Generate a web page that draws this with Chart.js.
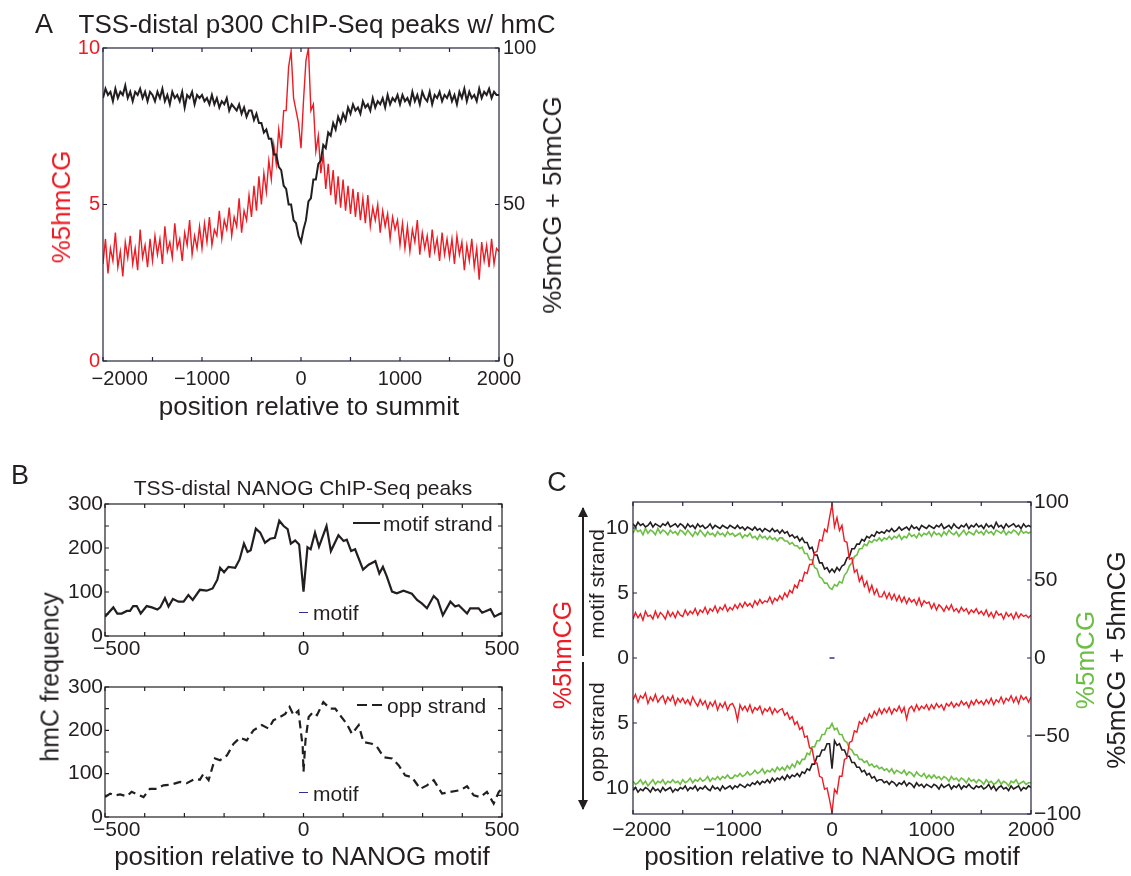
<!DOCTYPE html>
<html lang="en">
<head>
<meta charset="UTF-8">
<title>hmC profiles around p300 and NANOG sites</title>
<script src="https://cdn.jsdelivr.net/npm/chart.js"></script>
<style>
  body { margin: 0; background: #fff; }
  #page { position: relative; width: 1131px; height: 876px; overflow: hidden;
          font-family: 'Liberation Sans', Arial, sans-serif; color: #231f20; }
  canvas { position: absolute; }
  .t { position: absolute; white-space: nowrap; line-height: 1; transform: translate(-50%, -50%); }
  .v { transform: translate(-50%, -50%) rotate(-90deg); }
  .l { position: absolute; white-space: nowrap; line-height: 1; transform: translateY(-50%); font-size: 21px; }
  .seg { position: absolute; height: 0; }
</style>
</head>
<body>
<div id="page">
  <svg width="1131" height="876" style="position:absolute;left:0;top:0">
    <defs>
      <marker id="ah" viewBox="0 0 10 10" refX="9" refY="5" markerWidth="5" markerHeight="5" orient="auto">
        <path d="M0,0 L10,5 L0,10 z" fill="#231f20"/>
      </marker>
    </defs>
    <line x1="583" y1="656" x2="583" y2="508" stroke="#231f20" stroke-width="2" marker-end="url(#ah)"/>
    <line x1="583" y1="662" x2="583" y2="809" stroke="#231f20" stroke-width="2" marker-end="url(#ah)"/>
  </svg>

  <canvas id="cA" width="580" height="420" style="left:0px;top:0px"></canvas>
  <canvas id="cB1" width="540" height="230" style="left:0px;top:440px"></canvas>
  <canvas id="cB2" width="540" height="200" style="left:0px;top:660px"></canvas>
  <canvas id="cC" width="591" height="436" style="left:540px;top:440px"></canvas>

  <!-- panel A text -->
  <div class="t" style="left:44px;top:24px;font-size:27px">A</div>
  <div class="t" style="left:317px;top:24px;font-size:26px">TSS-distal p300 ChIP-Seq peaks w/ hmC</div>
  <div class="t v" style="left:61px;top:207px;font-size:26px;color:#ed1c24">%5hmCG</div>
  <div class="t v" style="left:552px;top:205px;font-size:26px">%5mCG + 5hmCG</div>
  <div class="t" style="left:309px;top:406px;font-size:26px">position relative to summit</div>

  <!-- panel B text -->
  <div class="t" style="left:20px;top:475px;font-size:27px">B</div>
  <div class="t" style="left:303px;top:487px;font-size:21px">TSS-distal NANOG ChIP-Seq peaks</div>
  <div class="t v" style="left:50px;top:677px;font-size:25px">hmC frequency</div>
  <div class="t" style="left:302px;top:856px;font-size:26px">position relative to NANOG motif</div>
  <div class="seg" style="left:353px;top:522px;width:27px;border-top:2.5px solid #231f20"></div>
  <div class="l" style="left:383px;top:523px">motif strand</div>
  <div class="seg" style="left:299px;top:612px;width:9px;border-top:1.5px solid #2e3192"></div>
  <div class="l" style="left:313px;top:612px">motif</div>
  <div class="seg" style="left:357px;top:704px;width:10px;border-top:2.5px solid #231f20"></div>
  <div class="seg" style="left:372px;top:704px;width:10px;border-top:2.5px solid #231f20"></div>
  <div class="l" style="left:387px;top:705px">opp strand</div>
  <div class="seg" style="left:299px;top:792px;width:9px;border-top:1.5px solid #2e3192"></div>
  <div class="l" style="left:313px;top:793px">motif</div>

  <!-- panel C text -->
  <div class="t" style="left:557px;top:482px;font-size:27px">C</div>
  <div class="t v" style="left:562px;top:655px;font-size:25px;color:#ed1c24">%5hmCG</div>
  <div class="t v" style="left:596px;top:584px;font-size:21px">motif strand</div>
  <div class="t v" style="left:596px;top:732px;font-size:21px">opp strand</div>
  <div class="t v" style="left:1085px;top:660px;font-size:26px;color:#6cbe45">%5mCG</div>
  <div class="t v" style="left:1116px;top:660px;font-size:26px">%5mCG + 5hmCG</div>
  <div class="t" style="left:832px;top:856px;font-size:26px">position relative to NANOG motif</div>
</div>

<script>
// ---------- data ----------
// bins of 25 bp from -2000 to 2000 (panels A and C)
const binPos = [];
for (let p = -2000; p <= 2000; p += 25) binPos.push(p);

// panel A: %5hmCG (left axis) and %5mCG + 5hmCG (right axis)
const aHmc = [
  3.1, 3.9, 2.8, 3.6, 3.2, 4.1, 3.0, 3.5, 2.7, 3.8, 3.3, 4.0, 3.1, 3.6, 2.9, 4.2, 3.3, 3.7, 3.0, 3.9,
  3.2, 4.0, 3.4, 3.9, 3.1, 4.3, 3.5, 3.8, 3.3, 4.4, 3.6, 3.9, 3.2, 4.1, 3.7, 4.5, 3.4, 4.0, 3.6, 4.3,
  3.6, 4.4, 3.8, 4.6, 3.7, 4.2, 4.0, 4.8, 3.9, 4.5, 4.2, 4.9, 4.0, 4.6, 4.3, 5.2, 4.1, 4.8, 4.5, 5.3,
  4.6, 5.6, 4.8, 5.9, 5.0, 6.0, 5.4, 6.4, 5.8, 6.9, 6.3, 7.4, 6.8, 8.0, 8.0, 9.4, 9.9, 8.4, 8.0, 7.6,
  6.8, 8.3, 9.6, 10.0, 8.0, 8.2, 6.7, 7.2, 6.0, 6.6, 5.5, 6.3, 5.3, 6.1, 5.0, 5.9, 4.9, 5.8, 4.8, 5.6,
  4.7, 5.5, 4.6, 5.4, 4.5, 5.2, 4.4, 5.3, 4.3, 4.9, 4.5, 5.0, 4.1, 4.8, 4.3, 4.7, 3.9, 4.6, 4.2, 4.5,
  3.7, 4.4, 3.6, 4.3, 3.5, 4.2, 3.8, 4.5, 3.4, 4.1, 3.6, 4.0, 3.3, 4.2, 3.5, 3.9, 3.2, 4.1, 3.4, 3.9,
  3.3, 3.9, 3.1, 4.0, 3.4, 3.8, 2.9, 3.7, 3.2, 3.9, 3.0, 3.6, 2.6, 3.8, 3.2, 3.7, 3.0, 3.9, 3.1, 3.6,
  3.5
];
const aTotal = [
  84, 87, 85, 86, 83, 87, 84, 86, 85, 88, 84, 86, 83, 86, 85, 87, 84, 86, 83, 86,
  85, 83, 86, 84, 87, 83, 85, 82, 86, 84, 85, 83, 86, 81, 85, 84, 86, 82, 85, 84,
  85, 83, 84, 82, 85, 82, 84, 81, 83, 82, 84, 80, 82, 81, 80, 82, 79, 81, 78, 80,
  80, 77, 79, 76, 76, 73, 74, 71, 71, 66, 66, 62, 61, 56, 55, 50, 50, 45, 44, 40,
  38, 42, 45, 51, 52, 58, 58, 63, 64, 69, 68, 73, 72, 76, 74, 78, 76, 79, 77, 81,
  79, 82, 80, 81, 79, 83, 81, 82, 80, 84, 81, 83, 82, 84, 81, 85, 82, 84, 83, 85,
  82, 85, 83, 84, 82, 86, 83, 85, 82, 86, 84, 83, 86, 82, 85, 84, 86, 83, 85, 84,
  86, 83, 85, 82, 86, 84, 87, 83, 86, 84, 85, 83, 87, 84, 86, 85, 87, 84, 86, 85,
  85
];

// panel B: hmC frequency around NANOG motif
const motifPos = [-500, -479, -469, -458, -445, -437, -429, -420, -410, -395, -382, -368, -361, -349, -340, -329,
  -315, -302, -290, -279, -261, -244, -229, -217, -210, -200, -189, -172, -161, -150, -141, -133, -120, -109,
  -97, -84, -72, -61, -50, -40, -32, -21, -11, 0, 10, 18, 29, 39, 58, 69, 88, 101, 109, 120, 130, 150, 164,
  181, 191, 200, 210, 223, 235, 252, 273, 286, 298, 311, 328, 338, 351, 370, 382, 391, 412, 420, 433, 441,
  450, 471, 481, 500];
const motifHmc = [44, 65, 51, 51, 57, 57, 68, 68, 51, 68, 65, 60, 65, 86, 67, 84,
  78, 78, 93, 82, 105, 103, 108, 128, 155, 145, 157, 155, 174, 210, 191, 195, 244, 235,
  212, 221, 223, 262, 250, 243, 210, 217, 208, 101, 202, 197, 235, 203, 250, 193, 229, 216, 219, 193, 197, 151, 162,
  170, 142, 157, 135, 101, 97, 103, 96, 82, 74, 63, 91, 82, 47, 78, 67, 70, 51, 63, 63, 63,
  53, 61, 44, 53];
const oppPos = [-500, -487, -475, -462, -445, -433, -403, -387, -370, -353, -332, -311, -294, -273, -261, -252,
  -239, -223, -210, -193, -176, -160, -143, -126, -105, -88, -76, -59, -46, -35, -25, -13, -8, -2, 0, 5, 13,
  24, 34, 50, 67, 80, 92, 109, 122, 139, 151, 172, 185, 202, 223, 240, 256, 273, 294, 311, 328, 349, 370,
  395, 412, 429, 445, 462, 479, 492, 500];
const oppHmc = [46, 54, 50, 52, 48, 58, 46, 65, 65, 73, 75, 81, 78, 88, 86, 100,
  85, 135, 131, 142, 169, 183, 177, 200, 212, 204, 223, 231, 238, 254, 235, 245, 208, 162, 104, 177, 231,
  242, 235, 265, 250, 250, 235, 215, 192, 212, 173, 169, 162, 138, 135, 119, 96, 92, 65, 73, 85, 54, 58,
  62, 71, 50, 46, 58, 31, 58, 65];

// panel C: motif strand (positive) and opposite strand (negative, mirrored)
const cHmcMotif = [
  3.0, 3.5, 3.1, 3.4, 2.9, 3.6, 3.2, 3.3, 3.0, 3.6, 3.1, 3.5, 3.3, 3.0, 3.6, 3.2, 3.5, 3.1, 3.6, 3.3,
  3.2, 3.7, 3.3, 3.6, 3.4, 3.8, 3.3, 3.7, 3.5, 3.9, 3.4, 3.8, 3.6, 4.0, 3.5, 3.9, 3.7, 4.1, 3.6, 3.9,
  3.7, 4.1, 3.8, 4.2, 3.9, 4.3, 4.0, 4.2, 3.9, 4.4, 4.1, 4.5, 4.2, 4.4, 4.3, 4.7, 4.2, 4.6, 4.4, 4.8,
  4.5, 5.0, 4.7, 5.2, 5.0, 5.6, 5.4, 6.0, 5.9, 6.6, 6.5, 7.2, 7.2, 8.1, 8.2, 9.1, 9.0, 9.9, 9.7, 10.8,
  11.8, 10.1, 10.8, 9.8, 10.2, 9.0, 8.9, 7.6, 7.7, 6.6, 6.8, 5.9, 6.3, 5.5, 5.9, 5.1, 5.6, 4.9, 5.3, 4.7,
  4.7, 5.1, 4.6, 5.0, 4.5, 4.9, 4.4, 4.8, 4.3, 4.7, 4.2, 4.6, 4.3, 4.5, 4.1, 4.6, 4.0, 4.4, 4.2, 4.3,
  3.8, 4.2, 3.7, 4.1, 3.9, 3.6, 4.0, 3.7, 4.1, 3.6, 3.8, 3.5, 3.9, 3.6, 3.8, 3.4, 3.7, 3.5, 3.8, 3.4,
  3.6, 3.3, 3.7, 3.2, 3.5, 3.1, 3.6, 3.3, 3.4, 3.0, 3.5, 3.2, 3.4, 3.0, 3.5, 3.1, 3.4, 3.2, 3.3, 3.1,
  3.3
];
const cHmcOpp = [
  -3.2, -2.8, -3.4, -2.9, -3.1, -2.7, -3.5, -3.0, -3.3, -2.8, -3.4, -3.1, -2.9, -3.5, -3.0, -3.3, -2.9, -3.6, -3.1, -3.4,
  -3.1, -3.5, -3.2, -3.6, -3.0, -3.4, -3.7, -3.2, -3.6, -3.3, -3.9, -3.4, -3.7, -3.3, -4.0, -3.5, -3.8, -3.4, -4.0, -3.6,
  -3.5, -3.9, -4.8, -3.6, -4.0, -3.7, -4.1, -3.6, -4.2, -3.8, -4.0, -3.7, -4.3, -3.9, -4.1, -3.8, -4.3, -3.9, -4.2, -4.0,
  -3.9, -4.4, -4.2, -4.7, -4.5, -5.1, -4.9, -5.5, -5.3, -6.1, -6.0, -6.9, -7.0, -8.0, -8.1, -9.1, -9.2, -10.1, -10.0, -10.9,
  -11.9, -10.1, -10.4, -9.1, -9.1, -7.8, -7.7, -6.5, -6.4, -5.6, -5.7, -4.9, -5.1, -4.6, -4.9, -4.3, -4.6, -4.1, -4.4, -3.9,
  -4.3, -3.9, -4.2, -3.8, -4.3, -3.9, -4.1, -3.7, -4.2, -3.8, -4.7, -3.9, -3.7, -4.1, -3.6, -4.0, -3.7, -3.9, -3.6, -4.0,
  -3.6, -3.9, -3.5, -3.8, -3.6, -4.0, -3.5, -3.7, -3.4, -3.8, -3.5, -3.7, -3.3, -3.6, -3.4, -3.8, -3.3, -3.6, -3.2, -3.5,
  -3.3, -3.6, -3.2, -3.5, -3.1, -3.6, -3.2, -3.4, -3.0, -3.5, -3.1, -3.3, -2.9, -3.4, -3.0, -3.5, -2.9, -3.2, -3.0, -3.4,
  -3.0
];
const cTotalMotif = [
  86, 84, 87, 85, 86, 84, 85, 87, 84, 86, 85, 84, 86, 85, 87, 84, 85, 86, 84, 86,
  85, 83, 86, 84, 85, 83, 86, 84, 85, 83, 84, 86, 83, 85, 84, 83, 85, 84, 83, 85,
  84, 83, 85, 83, 84, 82, 84, 83, 82, 84, 82, 83, 81, 83, 82, 81, 83, 81, 82, 80,
  82, 80, 81, 78, 79, 77, 78, 75, 77, 74, 74, 70, 71, 66, 66, 61, 61, 57, 58, 55,
  57, 55, 58, 56, 59, 60, 64, 65, 70, 70, 73, 73, 76, 75, 78, 77, 79, 78, 81, 80,
  81, 80, 82, 81, 83, 81, 82, 84, 82, 83, 84, 82, 85, 83, 84, 82, 85, 84, 83, 85,
  84, 83, 85, 84, 86, 83, 84, 85, 83, 86, 84, 83, 85, 84, 86, 83, 85, 84, 86, 84,
  85, 83, 86, 84, 85, 83, 87, 84, 85, 83, 86, 84, 85, 86, 84, 85, 83, 86, 84, 85,
  84
];
const cTotalOpp = [
  -85, -83, -86, -84, -85, -83, -84, -86, -83, -85, -84, -86, -83, -85, -84, -83, -86, -84, -85, -83,
  -84, -82, -85, -83, -84, -82, -85, -83, -84, -82, -84, -85, -82, -84, -83, -85, -82, -84, -83, -82,
  -84, -82, -83, -81, -82, -83, -81, -82, -80, -81, -79, -81, -79, -80, -78, -80, -77, -79, -77, -78,
  -76, -78, -75, -77, -75, -76, -74, -76, -73, -74, -71, -72, -68, -68, -63, -63, -59, -59, -55, -55,
  -71, -53, -56, -55, -59, -59, -63, -63, -67, -67, -70, -70, -73, -72, -75, -74, -77, -76, -79, -78,
  -78, -80, -79, -81, -79, -80, -82, -80, -81, -79, -82, -80, -81, -83, -80, -82, -81, -83, -81, -82,
  -83, -81, -82, -84, -81, -83, -82, -81, -84, -82, -83, -81, -84, -82, -83, -81, -83, -84, -82, -83,
  -82, -84, -83, -81, -84, -82, -85, -83, -82, -84, -83, -85, -82, -84, -83, -82, -85, -83, -84, -82,
  -83
];
const cMcMotif = [
  80, 83, 81, 82, 79, 83, 80, 82, 81, 79, 83, 80, 82, 81, 79, 82, 80, 81, 79, 82,
  81, 79, 82, 80, 78, 81, 79, 82, 80, 78, 81, 79, 80, 78, 81, 79, 80, 78, 81, 79,
  80, 78, 79, 80, 77, 79, 78, 80, 77, 78, 76, 79, 77, 78, 76, 78, 76, 77, 75, 77,
  77, 75, 75, 73, 74, 72, 72, 70, 71, 67, 67, 63, 63, 58, 57, 52, 51, 48, 48, 45,
  44, 47, 46, 49, 48, 53, 55, 59, 61, 65, 66, 70, 70, 73, 72, 75, 74, 76, 75, 77,
  75, 77, 76, 78, 76, 78, 77, 79, 76, 78, 77, 80, 78, 79, 77, 80, 78, 80, 79, 81,
  78, 81, 79, 80, 78, 81, 79, 82, 80, 79, 81, 78, 80, 82, 79, 81, 80, 79, 82, 80,
  81, 79, 82, 80, 81, 79, 82, 81, 80, 82, 79, 81, 80, 82, 81, 79, 82, 80, 81, 80,
  81
];
const cMcOpp = [
  -79, -81, -80, -78, -81, -79, -82, -80, -78, -81, -79, -80, -78, -81, -79, -80, -78, -80, -79, -81,
  -78, -80, -79, -77, -80, -78, -79, -77, -79, -78, -76, -79, -77, -78, -76, -78, -76, -77, -75, -77,
  -77, -75, -76, -74, -76, -75, -73, -75, -74, -72, -74, -73, -71, -74, -72, -73, -71, -73, -70, -72,
  -70, -72, -69, -71, -68, -70, -66, -68, -65, -65, -61, -62, -57, -57, -53, -53, -49, -49, -45, -45,
  -42, -46, -45, -49, -49, -53, -54, -58, -59, -62, -62, -65, -65, -67, -66, -69, -68, -70, -69, -71,
  -70, -72, -71, -73, -71, -74, -72, -73, -74, -72, -75, -73, -74, -76, -73, -75, -76, -74, -77, -75,
  -77, -75, -77, -76, -78, -76, -77, -79, -76, -78, -77, -79, -77, -78, -80, -77, -79, -78, -80, -78,
  -79, -81, -78, -80, -79, -81, -80, -78, -81, -79, -80, -82, -79, -80, -78, -81, -80, -79, -81, -80,
  -80
];
const motifMarkX = [-25, 25];
const motifMarkY = [0, 0];

// ticks and tick labels
const aXTicks = [-2000, -1500, -1000, -500, 0, 500, 1000, 1500, 2000];
const aXLabels = ['      \u22122000', '', '\u22121000', '', '0', '', '1000', '', '2000'];
const aLeftTicks = [0, 5, 10];
const aLeftLabels = ['0', '5', '10'];
const aRightTicks = [0, 50, 100];
const aRightLabels = ['0', '50', '100'];
const bXTicks = [-500, -400, -300, -200, -100, 0, 100, 200, 300, 400, 500];
const bXLabels = ['    \u2212500', '', '', '', '', '0', '', '', '', '', '500'];
const bYTicks = [0, 50, 100, 150, 200, 250, 300];
const bYLabels = ['0', '', '100', '', '200', '', '300'];
const cXLabels = ['   \u22122000', '', '\u22121000', '', '0', '', '1000', '', '2000'];
const cLeftTicks = [-10, -5, 0, 5, 10];
const cLeftLabels = ['10', '5', '0', '5', '10'];
const cRightTicks = [-100, -50, 0, 50, 100];
const cRightLabels = ['\u2212100', '\u221250', '0', '50', '100'];

// ---------- drawing ----------
const ink = '#231f20';
const red = '#ed1c24';
const green = '#6cbe45';
const blue = '#2e3192';
Chart.defaults.font.family = "'Liberation Sans', Arial, sans-serif";
Chart.defaults.color = ink;

function pts(xs, ys) {
  return xs.map((x, i) => ({ x: x, y: ys[i] }));
}

// box round the plot with inward ticks on all four sides
const frame = {
  id: 'frame',
  afterDatasetsDraw(chart, args, opts) {
    const { ctx, chartArea: a, scales } = chart;
    const len = 4;
    const right = scales.y2 || scales.y;
    ctx.save();
    ctx.strokeStyle = opts.color;
    ctx.lineWidth = 1.2;
    ctx.beginPath();
    scales.x.ticks.forEach(t => {
      const px = scales.x.getPixelForValue(t.value);
      ctx.moveTo(px, a.bottom); ctx.lineTo(px, a.bottom - len);
      ctx.moveTo(px, a.top); ctx.lineTo(px, a.top + len);
    });
    scales.y.ticks.forEach(t => {
      const py = scales.y.getPixelForValue(t.value);
      ctx.moveTo(a.left, py); ctx.lineTo(a.left + len, py);
    });
    right.ticks.forEach(t => {
      const py = right.getPixelForValue(t.value);
      ctx.moveTo(a.right, py); ctx.lineTo(a.right - len, py);
    });
    ctx.stroke();
    ctx.strokeRect(a.left, a.top, a.right - a.left, a.bottom - a.top);
    ctx.restore();
  }
};

function xScale(min, max, ticks, labels, size, pad, height) {
  return {
    type: 'linear', position: 'bottom', min: min, max: max,
    grid: { display: false, drawTicks: false }, border: { display: false },
    ticks: { autoSkip: false, maxRotation: 0, padding: pad, color: ink, font: { size: size },
             callback: (v, i) => labels[i] },
    afterBuildTicks: s => { s.ticks = ticks.map(v => ({ value: v })); },
    afterFit: s => { s.height = height; }
  };
}

function yScale(pos, min, max, ticks, labels, size, pad, width, color) {
  return {
    type: 'linear', position: pos, min: min, max: max,
    grid: { display: false, drawTicks: false }, border: { display: false },
    ticks: { autoSkip: false, padding: pad, color: color, font: { size: size },
             callback: (v, i) => labels[i] },
    afterBuildTicks: s => { s.ticks = ticks.map(v => ({ value: v })); },
    afterFit: s => { s.width = width; }
  };
}

function opts(padding, scales, frameColor) {
  return {
    responsive: false, animation: false,
    layout: { padding: padding },
    elements: { point: { radius: 0 }, line: { tension: 0 } },
    plugins: { legend: { display: false }, tooltip: { enabled: false }, frame: { color: frameColor } },
    scales: scales
  };
}

// panel A
new Chart(document.getElementById('cA'), {
  type: 'line',
  data: { datasets: [
    { data: pts(binPos, aTotal), yAxisID: 'y2', borderColor: ink, borderWidth: 2 },
    { data: pts(binPos, aHmc), yAxisID: 'y', borderColor: red, borderWidth: 1.4 }
  ] },
  options: opts({ top: 48, left: 0, right: 0, bottom: 0 }, {
    x: xScale(-2000, 2000, aXTicks, aXLabels, 20, 6, 59),
    y: yScale('left', 0, 10, aLeftTicks, aLeftLabels, 20, 3, 103, red),
    y2: yScale('right', 0, 100, aRightTicks, aRightLabels, 20, 4, 81, ink)
  }, '#24243c'),
  plugins: [frame]
});

// panel B, motif strand
new Chart(document.getElementById('cB1'), {
  type: 'line',
  data: { datasets: [
    { data: pts(motifPos, motifHmc), borderColor: ink, borderWidth: 2.2 }
  ] },
  options: opts({ top: 64, left: 0, right: 38, bottom: 0 }, {
    x: xScale(-500, 500, bXTicks, bXLabels, 21, 1, 34),
    y: yScale('left', 0, 300, bYTicks, bYLabels, 21, 2, 105, ink)
  }, ink),
  plugins: [frame]
});

// panel B, opposite strand
new Chart(document.getElementById('cB2'), {
  type: 'line',
  data: { datasets: [
    { data: pts(oppPos, oppHmc), borderColor: ink, borderWidth: 2.2, borderDash: [8, 5] }
  ] },
  options: opts({ top: 27, left: 0, right: 38, bottom: 0 }, {
    x: xScale(-500, 500, bXTicks, bXLabels, 21, 1, 43),
    y: yScale('left', 0, 300, bYTicks, bYLabels, 21, 2, 105, ink)
  }, ink),
  plugins: [frame]
});

// panel C
new Chart(document.getElementById('cC'), {
  type: 'line',
  data: { datasets: [
    { data: pts(binPos, cHmcMotif), yAxisID: 'y', borderColor: red, borderWidth: 1.4 },
    { data: pts(binPos, cHmcOpp), yAxisID: 'y', borderColor: red, borderWidth: 1.4 },
    { data: pts(binPos, cTotalMotif), yAxisID: 'y2', borderColor: ink, borderWidth: 1.6 },
    { data: pts(binPos, cTotalOpp), yAxisID: 'y2', borderColor: ink, borderWidth: 1.6 },
    { data: pts(binPos, cMcMotif), yAxisID: 'y2', borderColor: green, borderWidth: 1.6 },
    { data: pts(binPos, cMcOpp), yAxisID: 'y2', borderColor: green, borderWidth: 1.6 },
    { data: pts(motifMarkX, motifMarkY), yAxisID: 'y2', borderColor: blue, borderWidth: 1.5 }
  ] },
  options: opts({ top: 62, left: 0, right: 0, bottom: 0 }, {
    x: xScale(-2000, 2000, aXTicks, cXLabels, 21, 4, 62),
    y: yScale('left', -12, 12, cLeftTicks, cLeftLabels, 21, 4, 93, ink),
    y2: yScale('right', -100, 100, cRightTicks, cRightLabels, 21, 3, 100, ink)
  }, '#24243c'),
  plugins: [frame]
});
</script>
</body>
</html>
